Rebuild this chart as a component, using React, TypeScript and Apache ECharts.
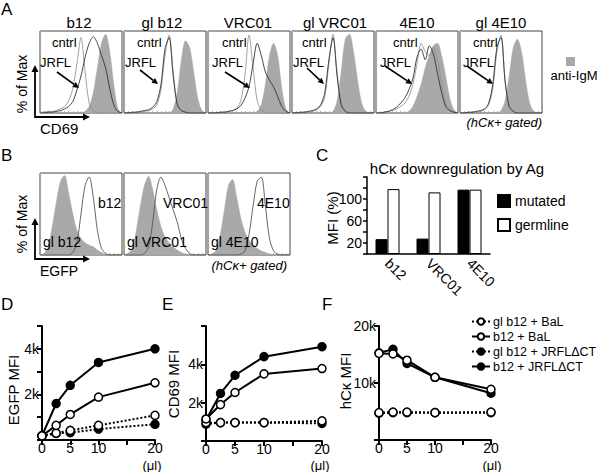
import React, { useEffect, useRef } from 'react';
import * as echarts from 'echarts';

const FONT = '"Liberation Sans", Arial, Helvetica, sans-serif';

// ---------- Panel A / B histogram channels (x in % of box width) ----------
const XS = [0, 5, 10, 15, 20, 25, 30, 35, 40, 45, 50, 55, 60, 65, 70, 75, 80, 85, 90, 95, 100];

const A_TITLES = ['b12', 'gl b12', 'VRC01', 'gl VRC01', '4E10', 'gl 4E10'];
const A_IGM = [
  [0, 0, 0, 0, 0, 0, 0, 0, 0, 0, 0, 2, 8, 25, 55, 85, 96, 75, 35, 5, 0],
  [0, 0, 0, 0, 0, 0, 0, 0, 0, 0, 0, 0, 5, 25, 65, 88, 80, 50, 18, 3, 0],
  [0, 0, 0, 0, 0, 0, 0, 0, 0, 0, 0, 0, 2, 10, 35, 70, 85, 70, 30, 5, 0],
  [0, 0, 0, 0, 0, 0, 0, 0, 0, 0, 2, 15, 50, 90, 96, 75, 40, 12, 2, 0, 0],
  [0, 0, 0, 0, 0, 0, 0, 0, 2, 8, 20, 35, 55, 70, 82, 85, 70, 45, 18, 4, 0],
  [0, 0, 0, 0, 0, 0, 0, 0, 0, 0, 3, 15, 45, 80, 90, 75, 40, 12, 2, 0, 0],
];
const A_CNTRL = [
  [1, 1, 2, 2, 3, 5, 8, 15, 30, 60, 92, 50, 12, 3, 1, 0, 0, 0, 0, 0, 0],
  [0, 0, 0, 1, 1, 2, 3, 5, 10, 28, 70, 95, 50, 12, 3, 1, 0, 0, 0, 0, 0],
  [0, 0, 0, 1, 1, 2, 3, 6, 15, 45, 95, 55, 15, 4, 1, 0, 0, 0, 0, 0, 0],
  [0, 0, 0, 1, 1, 2, 4, 8, 20, 60, 96, 50, 12, 3, 1, 0, 0, 0, 0, 0, 0],
  [0, 0, 1, 2, 3, 5, 8, 12, 20, 35, 60, 85, 75, 70, 80, 65, 35, 12, 4, 1, 0],
  [0, 0, 0, 1, 1, 2, 4, 10, 30, 75, 95, 40, 8, 2, 0, 0, 0, 0, 0, 0, 0],
];
const A_JRFL = [
  [0, 0, 1, 1, 2, 3, 5, 8, 14, 28, 45, 68, 85, 93, 85, 70, 55, 30, 10, 2, 0],
  [0, 0, 1, 1, 2, 3, 4, 7, 14, 34, 78, 92, 45, 10, 3, 1, 0, 0, 0, 0, 0],
  [0, 0, 0, 1, 1, 2, 3, 5, 9, 18, 32, 60, 85, 70, 50, 40, 32, 20, 8, 2, 0],
  [0, 0, 1, 1, 2, 3, 5, 10, 25, 65, 92, 45, 10, 2, 0, 0, 0, 0, 0, 0, 0],
  [0, 0, 1, 2, 4, 7, 12, 18, 28, 42, 68, 78, 65, 82, 72, 48, 25, 8, 3, 1, 0],
  [0, 0, 1, 1, 2, 3, 5, 12, 35, 80, 92, 38, 8, 2, 0, 0, 0, 0, 0, 0, 0],
];

const B_MUT_LABELS = ['b12', 'VRC01', '4E10'];
const B_GL_LABELS = ['gl b12', 'gl VRC01', 'gl 4E10'];
const B_GL = [
  [0, 2, 10, 35, 65, 90, 97, 75, 50, 30, 20, 15, 12, 10, 6, 3, 1, 0, 0, 0, 0],
  [0, 2, 8, 30, 60, 85, 96, 80, 55, 35, 22, 15, 10, 6, 3, 1, 0, 0, 0, 0, 0],
  [0, 1, 6, 25, 55, 85, 92, 70, 45, 28, 18, 12, 8, 5, 3, 1, 0, 0, 0, 0, 0],
];
const B_MUT = [
  [0, 0, 0, 0, 0, 0, 0, 0, 3, 15, 50, 85, 95, 70, 30, 8, 2, 0, 0, 0, 0],
  [0, 0, 0, 0, 0, 2, 10, 40, 80, 95, 85, 70, 55, 40, 20, 8, 2, 0, 0, 0, 0],
  [0, 0, 0, 0, 0, 0, 0, 0, 1, 5, 25, 60, 90, 95, 60, 20, 5, 1, 0, 0, 0],
];

// ---------- Panel C ----------
const C_CATS = ['b12', 'VRC01', '4E10'];
const C_MUTATED = [27, 28, 117];
const C_GERMLINE = [118, 112, 117];
const C_TICK_LABELS = [20, 60, 100];

// ---------- Panels D, E, F ----------
const DOSE = [0, 2.5, 5, 10, 20];
const SERIES_NAMES = ['gl b12 + BaL', 'b12 + BaL', 'gl b12 + JRFLΔCT', 'b12 + JRFLΔCT'];
const D_VALUES = [
  [180, 300, 420, 640, 1080],
  [180, 640, 1120, 1880, 2510],
  [180, 290, 320, 480, 690],
  [180, 1600, 2400, 3400, 4000],
];
const E_VALUES = [
  [950, 960, 960, 960, 1050],
  [1150, 1900, 2530, 3500, 3780],
  [880, 960, 960, 960, 920],
  [1100, 2480, 3430, 4400, 4920],
];
const F_VALUES = [
  [4800, 4900, 4900, 4800, 4900],
  [15200, 15100, 14000, 11000, 8900],
  [4700, 4800, 4800, 4800, 4800],
  [15300, 15900, 13450, 11000, 8200],
];
const D_TICK_LABELS: Record<number, string> = { 2000: '2k', 4000: '4k' };
const E_TICK_LABELS: Record<number, string> = { 2000: '2k', 4000: '4k' };
const F_TICK_LABELS: Record<number, string> = { 10000: '10k', 20000: '20k' };
const DOSE_TICK_LABELS: Record<number, string> = { 0: '0', 5: '5', 10: '10', 20: '20' };

function pairs(xs: number[], ys: number[]) {
  return xs.map((x, i) => [x, ys[i]]);
}

function txt(text: string, x: number, y: number, size: number, extra: any = {}, styleExtra: any = {}) {
  return {
    type: 'text',
    x,
    y,
    z: 100,
    ...extra,
    style: {
      text,
      fontSize: size,
      fontFamily: FONT,
      fill: '#000',
      align: 'left',
      verticalAlign: 'middle',
      ...styleExtra,
    },
  };
}

function arrow(x1: number, y1: number, x2: number, y2: number, w = 1.6, head = 6) {
  const ang = Math.atan2(y2 - y1, x2 - x1);
  const hx = x2 - head * Math.cos(ang);
  const hy = y2 - head * Math.sin(ang);
  const px = Math.sin(ang) * head * 0.5;
  const py = -Math.cos(ang) * head * 0.5;
  return [
    { type: 'line', z: 100, shape: { x1, y1, x2: hx, y2: hy }, style: { stroke: '#000', lineWidth: w } },
    {
      type: 'polygon',
      z: 100,
      shape: { points: [[x2, y2], [hx + px, hy + py], [hx - px, hy - py]] },
      style: { fill: '#000' },
    },
  ];
}

function buildOption() {
  const grids: any[] = [];
  const xAxes: any[] = [];
  const yAxes: any[] = [];
  const series: any[] = [];

  const histX = (gi: number) => ({
    type: 'value', gridIndex: gi, min: 0, max: 100, interval: 5,
    axisLine: { show: false }, axisLabel: { show: false }, splitLine: { show: false },
    axisTick: { show: true, inside: true, length: 2, lineStyle: { color: '#999', width: 0.7 } },
  });
  const histY = (gi: number) => ({
    type: 'value', gridIndex: gi, min: 0, max: 100, interval: 10,
    axisLine: { show: false }, axisLabel: { show: false }, splitLine: { show: false },
    axisTick: { show: true, inside: true, length: 2, lineStyle: { color: '#bbb', width: 0.7 } },
  });
  const greySeries = (gi: number, data: number[]) => ({
    type: 'line', xAxisIndex: gi, yAxisIndex: gi, data: pairs(XS, data), smooth: 0.3,
    symbol: 'none', silent: true, z: 1,
    lineStyle: { width: 0.5, color: '#a9a9a9' }, areaStyle: { color: '#a9a9a9', opacity: 1 },
  });
  const lineSeries = (gi: number, data: number[], color: string, w: number) => ({
    type: 'line', xAxisIndex: gi, yAxisIndex: gi, data: pairs(XS, data), smooth: 0.3,
    symbol: 'none', silent: true, z: 3, lineStyle: { width: w, color },
  });

  // Panel A grids 0..5
  const A_LEFTS = [40, 124, 208, 292, 376, 460];
  A_LEFTS.forEach((left, i) => {
    grids.push({ left, top: 31, width: 82, height: 82, show: true, borderColor: '#444', borderWidth: 1, backgroundColor: 'transparent' });
    xAxes.push(histX(i));
    yAxes.push(histY(i));
    series.push(greySeries(i, A_IGM[i]));
    series.push(lineSeries(i, A_CNTRL[i], '#8a8a8a', 0.8));
    series.push(lineSeries(i, A_JRFL[i], '#333', 0.9));
  });
  // Panel B grids 6..8
  const B_LEFTS = [40, 124, 208];
  B_LEFTS.forEach((left, j) => {
    const gi = 6 + j;
    grids.push({ left, top: 173, width: 82, height: 82, show: true, borderColor: '#444', borderWidth: 1, backgroundColor: 'transparent' });
    xAxes.push(histX(gi));
    yAxes.push(histY(gi));
    series.push(greySeries(gi, B_GL[j]));
    series.push(lineSeries(gi, B_MUT[j], '#555', 0.9));
  });

  // Panel C grid 9
  grids.push({ left: 367, top: 177, width: 123, height: 77 });
  xAxes.push({
    type: 'category', gridIndex: 9, data: C_CATS,
    axisLine: { lineStyle: { color: '#000', width: 1.5 } },
    axisTick: { length: 4, lineStyle: { color: '#000', width: 1.5 } },
    axisLabel: { rotate: -45, fontSize: 14, fontFamily: FONT, color: '#000', margin: 7 },
  });
  yAxes.push({
    type: 'value', gridIndex: 9, min: 0, max: 140, interval: 20,
    axisLine: { show: true, lineStyle: { color: '#000', width: 1.5 } },
    axisTick: { show: true, length: 4, lineStyle: { color: '#000', width: 1.5 } },
    splitLine: { show: false },
    axisLabel: {
      fontSize: 14, fontFamily: FONT, color: '#000', margin: 5,
      formatter: (v: number) => (C_TICK_LABELS.includes(v) ? String(v) : ''),
    },
  });
  series.push({
    type: 'bar', name: 'mutated', xAxisIndex: 9, yAxisIndex: 9, data: C_MUTATED,
    barWidth: 12, barGap: '0%', itemStyle: { color: '#000', borderColor: '#000', borderWidth: 1 },
  });
  series.push({
    type: 'bar', name: 'germline', xAxisIndex: 9, yAxisIndex: 9, data: C_GERMLINE,
    barWidth: 12, barGap: '0%', itemStyle: { color: '#fff', borderColor: '#000', borderWidth: 1 },
  });

  // Panels D, E, F grids 10..12
  const lineGrids = [
    { left: 42, top: 326, width: 113, height: 114, max: 5000, interval: 1000, labels: D_TICK_LABELS, values: D_VALUES },
    { left: 206, top: 326, width: 116, height: 115, max: 6000, interval: 2000, labels: E_TICK_LABELS, values: E_VALUES },
    { left: 379, top: 326, width: 112, height: 114, max: 20000, interval: 10000, labels: F_TICK_LABELS, values: F_VALUES },
  ];
  lineGrids.forEach((g, k) => {
    const gi = 10 + k;
    grids.push({ left: g.left, top: g.top, width: g.width, height: g.height });
    xAxes.push({
      type: 'value', gridIndex: gi, min: 0, max: 20, interval: 5,
      axisLine: { lineStyle: { color: '#000', width: 2 } },
      axisTick: { length: 5, lineStyle: { color: '#000', width: 2 } },
      splitLine: { show: false },
      axisLabel: { fontSize: 14, fontFamily: FONT, color: '#000', margin: 1, formatter: (v: number) => DOSE_TICK_LABELS[v] ?? '' },
    });
    yAxes.push({
      type: 'value', gridIndex: gi, min: 0, max: g.max, interval: g.interval,
      axisLine: { show: true, lineStyle: { color: '#000', width: 2 } },
      axisTick: { show: true, length: 5, lineStyle: { color: '#000', width: 2 } },
      splitLine: { show: false },
      axisLabel: { fontSize: 14, fontFamily: FONT, color: '#000', margin: 3, formatter: (v: number) => g.labels[v] ?? '' },
    });
    SERIES_NAMES.forEach((name, s) => {
      const dotted = s === 0 || s === 2;
      const open = s === 0 || s === 1;
      series.push({
        type: 'line', name, xAxisIndex: gi, yAxisIndex: gi, data: pairs(DOSE, g.values[s]),
        symbol: 'circle', symbolSize: 8, z: open ? 4 : 3,
        lineStyle: { color: '#000', width: 2, type: dotted ? 'dotted' : 'solid' },
        itemStyle: { color: open ? '#fff' : '#000', borderColor: '#000', borderWidth: 1.5 },
      });
    });
  });

  const graphics: any[] = [];
  // panel letters
  graphics.push(txt('A', 1, 9, 17));
  graphics.push(txt('B', 1, 155, 17));
  graphics.push(txt('C', 316, 155, 17));
  graphics.push(txt('D', 1, 304, 17));
  graphics.push(txt('E', 162, 304, 17));
  graphics.push(txt('F', 322, 304, 17));

  // Panel A titles & annotations
  const A_TITLE_X = [79, 162, 248, 335, 417, 501];
  const A_CNTRL_X = [52, 137, 222, 302, 393, 473];
  const A_JRFL_X = [40, 125, 212, 293, 380, 463];
  const A_ARROWS = [
    [57, 72, 79, 88], [140, 70, 158, 84], [225, 72, 250, 88],
    [307, 68, 324, 84], [385, 66, 412, 84], [467, 66, 493, 84],
  ];
  A_TITLES.forEach((t, i) => {
    graphics.push(txt(t, A_TITLE_X[i], 22, 15, {}, { align: 'center' }));
    graphics.push(txt('cntrl', A_CNTRL_X[i], 42, 13));
    graphics.push(txt('JRFL', A_JRFL_X[i], 62, 13));
    const [x1, y1, x2, y2] = A_ARROWS[i];
    graphics.push(...arrow(x1, y1, x2, y2, 1.6, 6));
  });
  graphics.push(txt('% of Max', 22, 84, 14, { rotation: Math.PI / 2 }, { align: 'center' }));
  graphics.push(...arrow(35, 118, 35, 65, 1.8, 7));
  graphics.push(...arrow(35, 117, 90, 117, 1.8, 7));
  graphics.push(txt('CD69', 40, 128, 15));
  graphics.push({ type: 'rect', z: 100, shape: { x: 566, y: 57, width: 9, height: 9 }, style: { fill: '#a9a9a9' } });
  graphics.push(txt('anti-IgM', 574, 75, 13, {}, { align: 'center' }));
  graphics.push(txt('(hCκ+ gated)', 542, 122, 13, {}, { align: 'right', fontStyle: 'italic' }));

  // Panel B annotations
  const B_MUT_X = [98, 163, 257];
  const B_GL_X = [43, 127, 211];
  B_MUT_LABELS.forEach((t, j) => {
    graphics.push(txt(t, B_MUT_X[j], 203, 14));
    graphics.push(txt(B_GL_LABELS[j], B_GL_X[j], 242, 14));
  });
  graphics.push(txt('% of Max', 22, 224, 14, { rotation: Math.PI / 2 }, { align: 'center' }));
  graphics.push(...arrow(35, 260, 35, 218, 1.8, 7));
  graphics.push(...arrow(35, 259, 90, 259, 1.8, 7));
  graphics.push(txt('EGFP', 40, 271, 14));
  graphics.push(txt('(hCκ+ gated)', 287, 265, 13, {}, { align: 'right', fontStyle: 'italic' }));

  // Panel C
  graphics.push(txt('hCκ downregulation by Ag', 457, 168, 15, {}, { align: 'center' }));
  graphics.push(txt('MFI (%)', 332, 218, 15, { rotation: Math.PI / 2 }, { align: 'center' }));

  // D/E/F axis names
  graphics.push(txt('EGFP MFI', 13, 390, 15, { rotation: Math.PI / 2 }, { align: 'center' }));
  graphics.push(txt('CD69 MFI', 173, 384, 15, { rotation: Math.PI / 2 }, { align: 'center' }));
  graphics.push(txt('hCκ MFI', 345, 381, 15, { rotation: Math.PI / 2 }, { align: 'center' }));
  graphics.push(txt('(μl)', 152, 465, 13, {}, { align: 'center' }));
  graphics.push(txt('(μl)', 320, 465, 13, {}, { align: 'center' }));
  graphics.push(txt('(μl)', 492, 465, 13, {}, { align: 'center' }));

  return {
    animation: false,
    backgroundColor: '#fff',
    textStyle: { fontFamily: FONT },
    grid: grids,
    xAxis: xAxes,
    yAxis: yAxes,
    series,
    legend: [
      {
        data: ['mutated', 'germline'], orient: 'vertical', left: 492, top: 189,
        itemWidth: 12, itemHeight: 12, itemGap: 10, selectedMode: false, icon: 'rect',
        textStyle: { fontSize: 14, fontFamily: FONT, color: '#000' },
      },
      {
        data: SERIES_NAMES, orient: 'vertical', left: 466, top: 310,
        itemWidth: 18, itemHeight: 8, itemGap: 2, selectedMode: false,
        textStyle: { fontSize: 12.5, fontFamily: FONT, color: '#000', padding: [0, 0, 0, -2] },
      },
    ],
    graphic: graphics,
  };
}

export default function App() {
  const ref = useRef<HTMLDivElement>(null);
  useEffect(() => {
    const chart = echarts.init(ref.current!, null, { renderer: 'svg' });
    chart.setOption(buildOption() as any);
    return () => chart.dispose();
  }, []);
  return <div ref={ref} style={{ position: 'absolute', left: 0, top: 0, width: 600, height: 472 }} />;
}
